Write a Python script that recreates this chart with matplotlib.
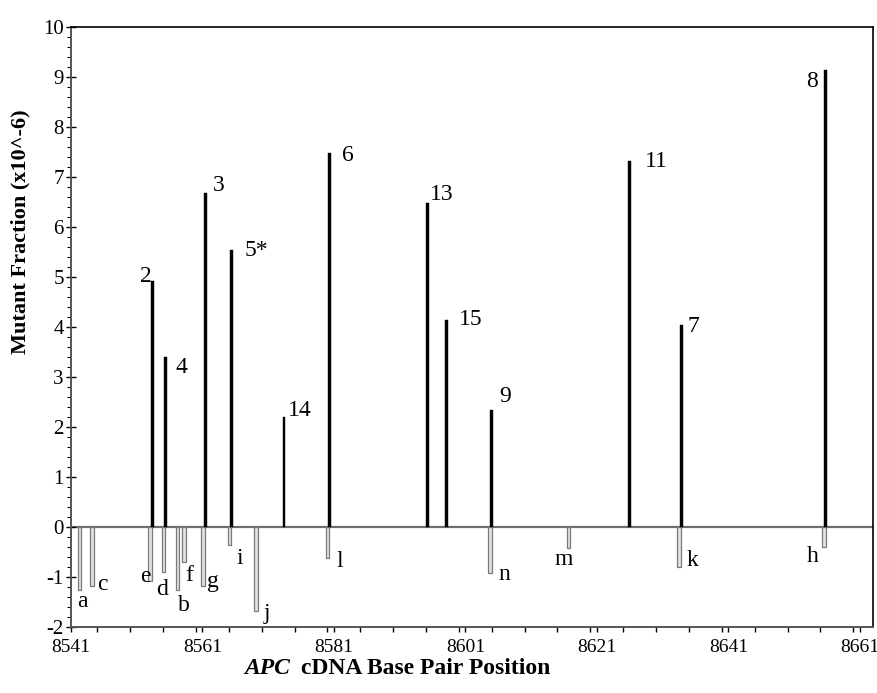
import matplotlib
matplotlib.use("Agg")
import matplotlib.pyplot as plt
from matplotlib.ticker import MultipleLocator

# ---- data ----
pos_labels = ["2", "4", "3", "5*", "14", "6", "13", "15", "9", "11", "7", "8"]
pos_x = [8553.4, 8555.4, 8561.5, 8565.4, 8573.4, 8580.3, 8595.2, 8598.1, 8605.0, 8625.9, 8633.9, 8655.8]
pos_val = [4.93, 3.41, 6.69, 5.54, 2.21, 7.49, 6.49, 4.15, 2.34, 7.33, 4.04, 9.15]

neg_labels = ["a", "c", "e", "d", "b", "f", "g", "i", "j", "l", "n", "m", "k", "h"]
neg_x = [8542.3, 8544.2, 8553.0, 8555.1, 8557.2, 8558.2, 8561.1, 8565.1, 8569.1, 8580.0, 8604.7, 8616.7, 8633.5, 8655.5]
neg_val = [-1.25, -1.18, -1.08, -0.89, -1.25, -0.70, -1.17, -0.36, -1.67, -0.61, -0.91, -0.41, -0.79, -0.39]

x_ticklabels = ["8541", "8561", "8581", "8601", "8621", "8641", "8661"]

# ---- label offsets (pixels): (ha, dx, dy) ----
pos_off = {"2": ("right", -1, 4), "4": ("left", 10, -11), "3": ("left", 7, 7),
           "5*": ("left", 13, 0), "14": ("left", 4, 6), "6": ("left", 13, -3),
           "13": ("left", 3, 8), "15": ("left", 13, 0), "9": ("left", 8, 14),
           "11": ("left", 16, -1), "7": ("left", 6, -2), "8": ("right", -8, -12)}
neg_off = {"a": (3, -12), "c": (10, 2), "e": (-4.5, 5), "d": (-1.5, -18), "b": (6, -16),
           "f": (5, -13.5), "g": (10, 4), "i": (10, -13.5), "j": (11, -3), "l": (12, -4),
           "n": (15, -2), "m": (-5, -12), "k": (13, 6), "h": (-11, -10)}

plt.rcParams['font.family'] = ['Liberation Serif', 'DejaVu Serif']
plt.rcParams['axes.unicode_minus'] = False

fig = plt.figure(figsize=(8.78, 6.93), dpi=100)
W, H = 878, 693
ax = fig.add_axes([71 / W, 1 - 627 / H, (873 - 71) / W, (627 - 27) / H])

ax.bar(neg_x, neg_val, width=0.55, color="#e2e2e2", edgecolor="#7a7a7a", linewidth=0.9, zorder=2)
ax.bar(pos_x, pos_val, width=0.45, color="black", edgecolor="black", linewidth=0.3, zorder=3)
ax.axhline(0, color="#6e6e6e", linewidth=1.6, zorder=1)

for lab, x, v in zip(pos_labels, pos_x, pos_val):
    ha, dx, dy = pos_off[lab]
    ax.annotate(lab, (x, v), xytext=(dx, dy), textcoords="offset pixels",
                ha=ha, va="center", fontsize=17)
for lab, x, v in zip(neg_labels, neg_x, neg_val):
    dx, dy = neg_off[lab]
    ax.annotate(lab, (x, v), xytext=(dx, dy), textcoords="offset pixels",
                ha="center", va="center", fontsize=17)

ax.set_xlim(8541, 8663)
ax.set_ylim(-2, 10)
ax.set_xticks([int(t) for t in x_ticklabels])
ax.set_xticklabels(x_ticklabels, fontsize=14)
ax.xaxis.set_minor_locator(MultipleLocator(5))
ax.yaxis.set_major_locator(MultipleLocator(1))
ax.yaxis.set_minor_locator(MultipleLocator(0.2))
ax.tick_params(axis="y", which="major", direction="inout", length=6.5, width=1.0, labelsize=15, pad=2)
ax.tick_params(axis="y", which="minor", direction="out", length=3, width=0.8)
ax.tick_params(axis="x", which="both", direction="out", length=3.5, width=1.0, labelsize=14, pad=5)

for s in ["left", "bottom"]:
    ax.spines[s].set_color("#555555")
    ax.spines[s].set_linewidth(1.4)
for s in ["top", "right"]:
    ax.spines[s].set_color("black")
    ax.spines[s].set_linewidth(1.2)

fig.text(20 / W, 1 - 232 / H, "Mutant Fraction (x10^-6)", rotation=90, ha="center", va="center",
         fontsize=16, fontweight="bold")
fig.text(290 / W, 1 - 669 / H, "APC", ha="right", va="center", fontsize=17,
         fontweight="bold", fontstyle="italic")
fig.text(301 / W, 1 - 669 / H, "cDNA Base Pair Position", ha="left", va="center", fontsize=17,
         fontweight="bold")

fig.savefig("out.png", dpi=100)
